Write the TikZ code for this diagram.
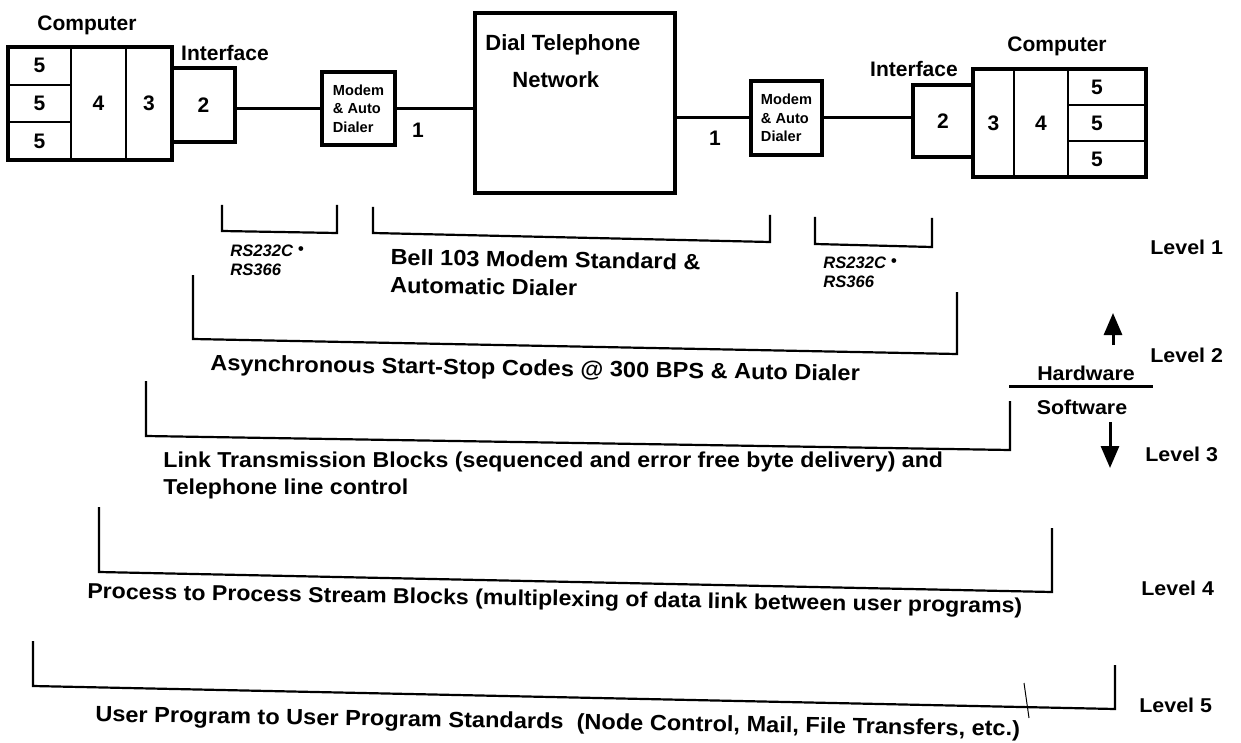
\documentclass[tikz,border=0pt]{standalone}
\usepackage{fontspec}
\setmainfont{Liberation Sans}
\newfontfamily\widefont[FakeStretch=1.07]{Liberation Sans}
\usetikzlibrary{arrows.meta}
\tikzstyle{box} = [draw, line width=2pt, inner sep=0pt, outer sep=0pt, font=\fontsize{10.5}{12}\selectfont\bfseries]
\tikzstyle{cell} = [draw, line width=1pt, inner sep=0pt, outer sep=0pt, font=\fontsize{10.5}{12}\selectfont\bfseries]
\tikzstyle{modem} = [box, align=left, font=\fontsize{7.3}{9.2}\selectfont\bfseries]
\tikzstyle{wire} = [line width=1.5pt]
\tikzstyle{bracket} = [line width=1.1pt]
\tikzstyle{lbl} = [inner sep=0pt, font=\fontsize{10.5}{12}\selectfont\bfseries]
\tikzstyle{note} = [inner sep=0pt, anchor=west, align=left, rotate=-0.9, font=\widefont\fontsize{11}{12}\selectfont\bfseries]
\tikzstyle{std} = [inner sep=0pt, anchor=west, align=left, font=\fontsize{8.3}{9.5}\selectfont\bfseries\itshape]
\tikzstyle{level} = [inner sep=0pt, anchor=west, font=\widefont\fontsize{10}{12}\selectfont\bfseries]
\tikzstyle{arrow} = [line width=1.5pt, -{Triangle[width=9pt,length=11pt]}]

\begin{document}
\begin{tikzpicture}[x=0.5pt, y=-0.5pt]
    \useasboundingbox (0,0) rectangle (1241,743);

    % Left computer
    \node (c5a) [cell, minimum width=31.5pt, minimum height=18.83pt] at (39.5,65.8) {5};
    \node (c5b) [cell, minimum width=31.5pt, minimum height=18.83pt] at (39.5,103.5) {5};
    \node (c5c) [cell, minimum width=31.5pt, minimum height=18.83pt] at (39.5,141.2) {5};
    \node (c4) [cell, minimum width=27.5pt, minimum height=56.5pt] at (98.5,103.5) {4};
    \node (c3) [cell, minimum width=23pt, minimum height=56.5pt] at (149,103.5) {3};
    \node (compL) [box, minimum width=82pt, minimum height=56.5pt] at (90,103.5) {};
    \node (compLlbl) [lbl] at (87,25) {Computer};
    \node (ifL) [box, minimum width=31.5pt, minimum height=37pt] at (203.5,105) {2};
    \node (ifLlbl) [lbl] at (225,53) {Interface};

    % Modems and network
    \node (modemL) [modem, minimum width=36.5pt, minimum height=36.5pt] at (358.5,108.5) {Modem\\\& Auto\\Dialer};
    \node (net) [box, minimum width=100pt, minimum height=90pt] at (575,103) {};
    \node (netA) [lbl, anchor=west, font=\fontsize{11}{12}\selectfont\bfseries] at (485,45) {Dial Telephone};
    \node (netB) [lbl, anchor=west, font=\fontsize{11}{12}\selectfont\bfseries] at (512,80) {Network};
    \node (modemR) [modem, minimum width=35.5pt, minimum height=37pt] at (786.5,118) {Modem\\\& Auto\\Dialer};
    \node (oneL) [lbl] at (418,130) {1};
    \node (oneR) [lbl] at (715,138) {1};

    % Right computer
    \node (ifR) [box, minimum width=30pt, minimum height=36pt] at (943,121) {2};
    \node (ifRlbl) [lbl] at (914,69) {Interface};
    \node (r3) [cell, minimum width=20.5pt, minimum height=54pt] at (993.5,123) {3};
    \node (r4) [cell, minimum width=27pt, minimum height=54pt] at (1041,123) {4};
    \node (r5a) [cell, minimum width=39pt, minimum height=18pt] at (1107,87) {\hspace*{-10pt}5};
    \node (r5b) [cell, minimum width=39pt, minimum height=18pt] at (1107,123) {\hspace*{-10pt}5};
    \node (r5c) [cell, minimum width=39pt, minimum height=18pt] at (1107,159) {\hspace*{-10pt}5};
    \node (compR) [box, minimum width=86.5pt, minimum height=54pt] at (1059.5,123) {};
    \node (compRlbl) [lbl] at (1057,46) {Computer};

    % Connections
    \draw [wire] (modemL.west) -- (modemL.west -| ifL.east);
    \draw [wire] (modemL.east) -- (modemL.east -| net.west);
    \draw [wire] (modemR.west) -- (modemR.west -| net.east);
    \draw [wire] (modemR.east) -- (modemR.east -| ifR.west);

    % Level brackets
    \draw [bracket] (222,205) -- (222,231) -- (337,233) -- (337,205);
    \draw [bracket] (373,207) -- (373,233) -- (770,242) -- (770,215);
    \draw [bracket] (815,217) -- (815,244) -- (932,247) -- (932,218);
    \draw [bracket] (193,275) -- (193,339) -- (957,354) -- (957,292);
    \draw [bracket] (146,381) -- (146,436) -- (1010,450) -- (1010,401);
    \draw [bracket] (99,507) -- (99,572) -- (1052,592) -- (1052,528);
    \draw [bracket] (33,641) -- (33,686) -- (1115,709) -- (1115,665);
    \draw [line width=0.5pt] (1024,683) -- (1029,718);

    % Bracket texts
    \node (rsL) [std] at (230,260.5) {RS232C \raisebox{1pt}{\textbullet}\\RS366};
    \node (bell) [note, font=\widefont\fontsize{11}{14}\selectfont\bfseries] at (390,271) {Bell 103 Modem Standard \&\\Automatic Dialer};
    \node (rsR) [std] at (823,272.5) {RS232C \raisebox{1pt}{\textbullet}\\RS366};
    \node (async) [note] at (210,365) {Asynchronous Start-Stop Codes @ 300 BPS \& Auto Dialer};
    \node (linkA) [note, rotate=0.9, font=\widefont\fontsize{10.8}{12}\selectfont\bfseries] at (163,462) {Link Transmission Blocks (sequenced and error free byte delivery) and};
    \node (linkB) [note, rotate=0.9, font=\widefont\fontsize{10.8}{12}\selectfont\bfseries] at (163,489) {Telephone line control};
    \node (proc) [note, font=\widefont\fontsize{10.8}{12}\selectfont\bfseries] at (87,593) {Process to Process Stream Blocks (multiplexing of data link between user programs)};
    \node (user) [note] at (95,716) {User Program to User Program Standards\ \ (Node Control, Mail, File Transfers, etc.)};

    % Levels and hardware/software split
    \node (lev1) [level] at (1150,247) {Level 1};
    \node (lev2) [level] at (1150,355) {Level 2};
    \node (lev3) [level] at (1145,454) {Level 3};
    \node (lev4) [level] at (1141,588) {Level 4};
    \node (lev5) [level] at (1139,705) {Level 5};
    \node (hw) [lbl, font=\widefont\fontsize{10}{12}\selectfont\bfseries] at (1086,373) {Hardware};
    \node (sw) [lbl, font=\widefont\fontsize{10}{12}\selectfont\bfseries] at (1082,407) {Software};
    \coordinate (splitL) at (1009,386);
    \coordinate (splitR) at (1153,386);
    \draw [wire] (splitL) -- (splitR);
    \coordinate (upA) at (1113,345);
    \coordinate (downA) at (1110,422);
    \draw [arrow] (upA) -- ++(0,-32);
    \draw [arrow] (downA) -- ++(0,46);
\end{tikzpicture}
\end{document}
